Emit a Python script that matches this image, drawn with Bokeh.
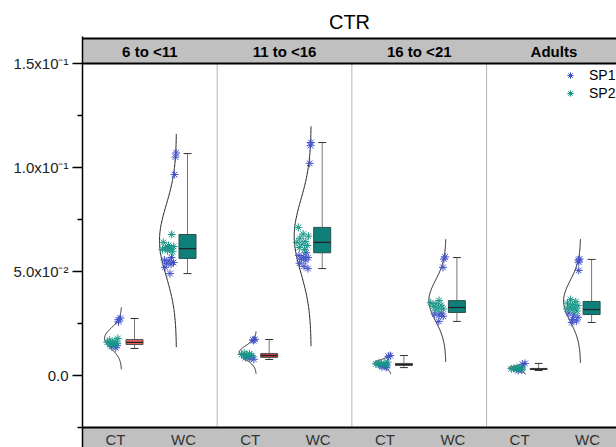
import numpy as np
from bokeh.plotting import figure
from bokeh.models import Range1d, FixedTicker, Legend, LegendItem
from bokeh.core.properties import value
from bokeh.embed import file_html
from bokeh.resources import INLINE

# ---------------- data ----------------
PANELS = ["6 to <11", "11 to <16", "16 to <21", "Adults"]
GROUPS = ["CT", "WC"]
TITLE = "CTR"

SP1_CT = [
    [0.0276, 0.0268, 0.0258, 0.0145, 0.0139, 0.0133],
    [0.0174, 0.0171, 0.0168, 0.0090, 0.0086, 0.0083, 0.0078],
    [0.0096, 0.0092, 0.0050, 0.0046, 0.0042, 0.0039],
    [0.0058, 0.0054, 0.0030, 0.0027, 0.0024],
]
SP2_CT = [
    [0.0178, 0.0170, 0.0165, 0.0160, 0.0158, 0.0155, 0.0150, 0.0148],
    [0.0108, 0.0104, 0.0101, 0.0098, 0.0096, 0.0094, 0.0092],
    [0.0064, 0.0061, 0.0058, 0.0056, 0.0054, 0.0052, 0.0050],
    [0.0038, 0.0036, 0.0034, 0.0033, 0.0032, 0.0031, 0.0030],
]
SP1_WC = [
    [0.1070, 0.1050, 0.0966, 0.0567, 0.0555, 0.0552, 0.0543, 0.0540, 0.0535, 0.0520, 0.0490],
    [0.1120, 0.1105, 0.1020, 0.0590, 0.0577, 0.0570, 0.0567, 0.0560, 0.0555, 0.0540, 0.0525, 0.0514],
    [0.0570, 0.0560, 0.0520, 0.0300, 0.0295, 0.0290, 0.0285, 0.0260],
    [0.0560, 0.0555, 0.0545, 0.0505, 0.0300, 0.0290, 0.0280, 0.0270, 0.0262, 0.0255],
]
SP2_WC = [
    [0.0678, 0.0640, 0.0625, 0.0620, 0.0615, 0.0610, 0.0605, 0.0600, 0.0595],
    [0.0712, 0.0680, 0.0670, 0.0660, 0.0645, 0.0640, 0.0632, 0.0625, 0.0615, 0.0605],
    [0.0360, 0.0350, 0.0345, 0.0338, 0.0332, 0.0325, 0.0320, 0.0315],
    [0.0365, 0.0355, 0.0348, 0.0342, 0.0336, 0.0330, 0.0325, 0.0320, 0.0315, 0.0310],
]

CT_LOW = [0.0130, 0.0077, 0.0038, 0.0024]
CT_Q1 = [0.0149, 0.0087, 0.0048, 0.0029]
CT_MED = [0.0159, 0.0096, 0.0053, 0.0031]
CT_Q3 = [0.0173, 0.0106, 0.0058, 0.0034]
CT_HIGH = [0.0274, 0.0173, 0.0096, 0.0058]

WC_LOW = [0.0490, 0.0514, 0.0260, 0.0255]
WC_Q1 = [0.0563, 0.0590, 0.0303, 0.0293]
WC_MED = [0.0610, 0.0640, 0.0327, 0.0317]
WC_Q3 = [0.0678, 0.0712, 0.0360, 0.0356]
WC_HIGH = [0.1067, 0.1120, 0.0567, 0.0558]

Y_MAJOR = [0.0, 0.05, 0.10, 0.15]
Y_MINOR = [-0.025, 0.025, 0.075, 0.125]
Y_LABELS = ["0.0", "5.0x10\u207b\u00b2", "1.0x10\u207b\u00b9", "1.5x10\u207b\u00b9"]

# ---------------- layout helpers (picture pixels -> data) ----------------
X0PX, PXX = 82.0, 134.7
Y0PX, PXY = 375.0, 2080.0
def xd(px):
    return (px - X0PX) / PXX
def yd(py):
    return (Y0PX - py) / PXY

FONT = "Liberation Sans"
CT_FILL = ["#e8625e", "#c9373a", "#8a3434", "#111111"]
WC_FILL = "#0e7f79"
C_SP1 = "#4152c8"
C_SP2 = "#179689"

p = figure(width=616, height=447, output_backend="svg", toolbar_location=None,
           x_range=Range1d(0, xd(616)), y_range=Range1d(yd(447), yd(36)),
           min_border_left=82, min_border_right=0, min_border_top=36, min_border_bottom=0,
           x_axis_location=None)
p.xgrid.visible = False
p.ygrid.visible = False
p.outline_line_color = None
p.background_fill_color = "white"

p.title.text = TITLE
p.title.align = "center"
p.title.text_font = FONT
p.title.text_font_size = "20px"
p.title.text_font_style = "normal"
p.title.text_color = "black"
p.title.standoff = 7

ya = p.yaxis[0]
ya.ticker = FixedTicker(ticks=Y_MAJOR, minor_ticks=Y_MINOR)
ya.major_label_overrides = {t: lab for t, lab in zip(Y_MAJOR, Y_LABELS)}
ya.major_label_text_font = FONT
ya.major_label_text_font_size = "15px"
ya.major_label_text_color = "#222222"
ya.major_label_standoff = 4
ya.axis_line_width = 1.5
ya.axis_line_color = "black"
ya.major_tick_out = 10
ya.major_tick_in = 0
ya.minor_tick_out = 5
ya.minor_tick_in = 0
ya.major_tick_line_width = 1.5
ya.minor_tick_line_width = 1.5

xend = xd(616)
npan = len(PANELS)

# separators
p.segment(x0=list(range(1, npan)), y0=-0.025, x1=list(range(1, npan)), y1=0.15,
          line_color="#b4b4b4", line_width=1)

# header band
p.quad(left=0, right=xend + 1, bottom=0.15, top=yd(38), fill_color="#c0c0c0", line_color=None)
p.segment(x0=0, y0=0.15, x1=xend + 1, y1=0.15, line_color="black", line_width=2)
p.segment(x0=0, y0=yd(38), x1=xend + 1, y1=yd(38), line_color="black", line_width=2)
# bottom band
p.quad(left=0, right=xend + 1, bottom=yd(460), top=-0.025, fill_color="#c0c0c0", line_color=None)
p.segment(x0=0, y0=-0.025, x1=xend + 1, y1=-0.025, line_color="black", line_width=2)

p.text(x=[i + 0.5 for i in range(npan)], y=[yd(51)] * npan, text=PANELS,
       text_font=value(FONT), text_font_size="15px", text_font_style="bold",
       text_align="center", text_baseline="middle", text_color="black")

gx, gt = [], []
for i in range(npan):
    gx += [i + xd(82 + 33), i + xd(82 + 101)]
    gt += GROUPS
p.text(x=gx, y=[yd(430)] * len(gx), text=gt, text_font=value(FONT), text_font_size="15px",
       text_align="center", text_baseline="top", text_color="#333333")

# geometry within a panel
CT_BASE, WC_BASE = 39 / PXX, 94 / PXX
CT_BOX, WC_BOX = 52 / PXX, 105 / PXX
CURVE_W = 17 / PXX
BOX_W = 17 / PXX
CAP_W = 8 / PXX

curves_x, curves_y = [], []
pts = {"SP1": {"x": [], "y": []}, "SP2": {"x": [], "y": []}}
for i in range(npan):
    for grp, base, s1, s2 in [("CT", CT_BASE, SP1_CT[i], SP2_CT[i]),
                              ("WC", WC_BASE, SP1_WC[i], SP2_WC[i])]:
        allv = np.array(s1 + s2)
        m, s = allv.mean(), allv.std(ddof=1)
        ys = np.linspace(m - 3 * s, m + 3 * s, 161)
        xs = i + base - CURVE_W * np.exp(-0.5 * ((ys - m) / s) ** 2)
        curves_x.append(list(xs))
        curves_y.append(list(ys))
        k = 0
        for name, vals in [("SP1", s1), ("SP2", s2)]:
            for v in vals:
                u = 0.15 + 0.8 * ((k * 0.6180339887 + 0.37) % 1.0)
                g = np.exp(-0.5 * ((v - m) / s) ** 2)
                pts[name]["x"].append(i + base - CURVE_W * g * u)
                pts[name]["y"].append(v)
                k += 1

p.multi_line(xs=curves_x, ys=curves_y, line_color="#222222", line_width=1)

# boxes
for grp, cen, low, q1, med, q3, high, fills, edge in [
        ("CT", CT_BOX, CT_LOW, CT_Q1, CT_MED, CT_Q3, CT_HIGH, CT_FILL, "#555555"),
        ("WC", WC_BOX, WC_LOW, WC_Q1, WC_MED, WC_Q3, WC_HIGH, [WC_FILL] * npan, "#2b4f4d")]:
    xc = [i + cen for i in range(npan)]
    p.segment(x0=xc, y0=q3, x1=xc, y1=high, line_color="#777777", line_width=1)
    p.segment(x0=xc, y0=low, x1=xc, y1=q1, line_color="#777777", line_width=1)
    p.segment(x0=[x - CAP_W / 2 for x in xc], y0=high, x1=[x + CAP_W / 2 for x in xc], y1=high,
              line_color="#333333", line_width=1)
    p.segment(x0=[x - CAP_W / 2 for x in xc], y0=low, x1=[x + CAP_W / 2 for x in xc], y1=low,
              line_color="#333333", line_width=1)
    p.vbar(x=xc, width=BOX_W, bottom=q1, top=q3, fill_color=fills, line_color=edge, line_width=1)
    p.segment(x0=[x - BOX_W / 2 for x in xc], y0=med, x1=[x + BOX_W / 2 for x in xc], y1=med,
              line_color="#222222", line_width=1.2)

r1 = p.scatter(x=pts["SP1"]["x"], y=pts["SP1"]["y"], marker="asterisk", size=8,
               line_color=C_SP1, line_width=1)
r2 = p.scatter(x=pts["SP2"]["x"], y=pts["SP2"]["y"], marker="asterisk", size=8,
               line_color=C_SP2, line_width=1)

legend = Legend(items=[LegendItem(label="SP1", renderers=[r1]), LegendItem(label="SP2", renderers=[r2])],
                location=(480, 345), padding=0, margin=0, spacing=0, label_height=18, glyph_height=18,
                glyph_width=16, label_standoff=11, border_line_color=None, background_fill_alpha=0,
                label_text_font=FONT, label_text_font_size="14px", label_text_color="black")
p.add_layout(legend, "center")

open("out.html", "w").write(file_html(p, INLINE))
